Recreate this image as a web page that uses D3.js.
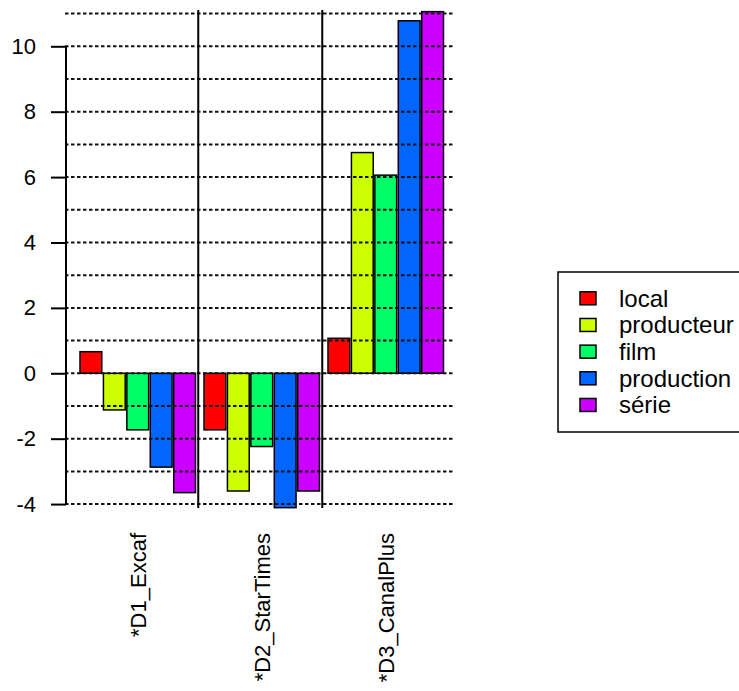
<!DOCTYPE html>
<html>
<head>
<meta charset="utf-8">
<script src="https://cdn.jsdelivr.net/npm/d3@7/dist/d3.min.js"></script>
<style>
  html, body { margin: 0; padding: 0; background: #fff; }
  svg { display: block; }
  text { font-family: "Liberation Sans", Arial, sans-serif; fill: #000; }
</style>
</head>
<body>
<svg id="chart" width="739" height="691"></svg>
<script>
// ---- data ----
const categories = ["*D1_Excaf", "*D2_StarTimes", "*D3_CanalPlus"];
const series = ["local", "producteur", "film", "production", "série"];
const local      = [0.66, -1.73, 1.07];
const producteur = [-1.12, -3.60, 6.75];
const film       = [-1.73, -2.24, 6.06];
const production = [-2.87, -4.11, 10.78];
const serie      = [-3.65, -3.60, 11.06];
const colors = ["#FF0000", "#CCFF00", "#00FF66", "#0066FF", "#CC00FF"];
const yTicks = [-4, -2, 0, 2, 4, 6, 8, 10];
const yTickLabels = ["-4", "-2", "0", "2", "4", "6", "8", "10"];
const gridValues = [-4, -3, -2, -1, 0, 1, 2, 3, 4, 5, 6, 7, 8, 9, 10, 11];

const seriesValues = [local, producteur, film, production, serie];

// ---- layout ----
const svg = d3.select("#chart");
const plot = { left: 65, right: 453, top: 10, bottom: 508 };

const y = d3.scaleLinear().domain([-4.12, 11.11]).range([plot.bottom, plot.top]);

const x0 = d3.scaleBand().domain(categories)
  .range([75.75, 447.75]).paddingInner(0.0685).paddingOuter(0.0685 / 2);
const x1 = d3.scaleBand().domain(series)
  .range([0, x0.bandwidth()]).paddingInner(0.07).paddingOuter(0);

const color = d3.scaleOrdinal().domain(series).range(colors);

const rows = [];
categories.forEach((c, ci) => {
  series.forEach((s, si) => {
    rows.push({ cat: c, ser: s, value: seriesValues[si][ci] });
  });
});

// ---- bars ----
svg.append("g").selectAll("rect").data(rows).join("rect")
  .attr("x", d => x0(d.cat) + x1(d.ser))
  .attr("width", x1.bandwidth())
  .attr("y", d => y(Math.max(0, d.value)))
  .attr("height", d => Math.abs(y(d.value) - y(0)))
  .attr("fill", d => color(d.ser))
  .attr("stroke", "#000")
  .attr("stroke-width", 1.5);

// ---- horizontal dashed gridlines ----
svg.append("g").selectAll("line").data(gridValues).join("line")
  .attr("x1", plot.left).attr("x2", plot.right)
  .attr("y1", d => y(d)).attr("y2", d => y(d))
  .attr("stroke", "#111")
  .attr("stroke-width", 2)
  .attr("stroke-dasharray", "3.5,2.5");

// ---- vertical separators between groups ----
const seps = categories.slice(1).map(c => x0(c) - x0.step() * x0.paddingInner() / 2 - 1.5);
svg.append("g").selectAll("line").data(seps).join("line")
  .attr("x1", d => d).attr("x2", d => d)
  .attr("y1", plot.top).attr("y2", plot.bottom)
  .attr("stroke", "#000")
  .attr("stroke-width", 2);

// ---- y axis ----
const yAxis = d3.axisLeft(y).tickValues(yTicks).tickSize(15).tickPadding(15)
  .tickFormat((d, i) => yTickLabels[i]);
const gy = svg.append("g").attr("transform", `translate(66,0)`).call(yAxis);
gy.select(".domain").remove();
gy.append("line")
  .attr("x1", 0).attr("x2", 0)
  .attr("y1", y(-4)).attr("y2", y(10))
  .attr("stroke", "#000").attr("stroke-width", 2);
gy.selectAll(".tick line").attr("stroke", "#000").attr("stroke-width", 2);
gy.selectAll(".tick text")
  .style("font-family", '"Liberation Sans", Arial, sans-serif')
  .style("font-size", "22px")
  .attr("fill", "#000");

// ---- category labels (rotated) ----
svg.append("g").selectAll("text").data(categories).join("text")
  .attr("transform", d => `translate(${x0(d) + x0.bandwidth() / 2 + 1},533) rotate(-90)`)
  .attr("text-anchor", "end")
  .attr("dy", "0.35em")
  .style("font-size", "22px")
  .text(d => d);

// ---- legend ----
const legend = svg.append("g");
legend.append("rect")
  .attr("x", 558).attr("y", 272).attr("width", 200).attr("height", 160)
  .attr("fill", "#fff").attr("stroke", "#000").attr("stroke-width", 1.5);
const li = legend.selectAll("g.item").data(series).join("g")
  .attr("class", "item")
  .attr("transform", (d, i) => `translate(0,${298.3 + i * 26.67})`);
li.append("rect")
  .attr("x", 580).attr("y", -6.5).attr("width", 16).attr("height", 13)
  .attr("fill", d => color(d)).attr("stroke", "#000").attr("stroke-width", 1.5);
li.append("text")
  .attr("x", 619).attr("y", 0).attr("dy", "0.35em")
  .style("font-size", "24px")
  .text(d => d);
</script>
</body>
</html>
